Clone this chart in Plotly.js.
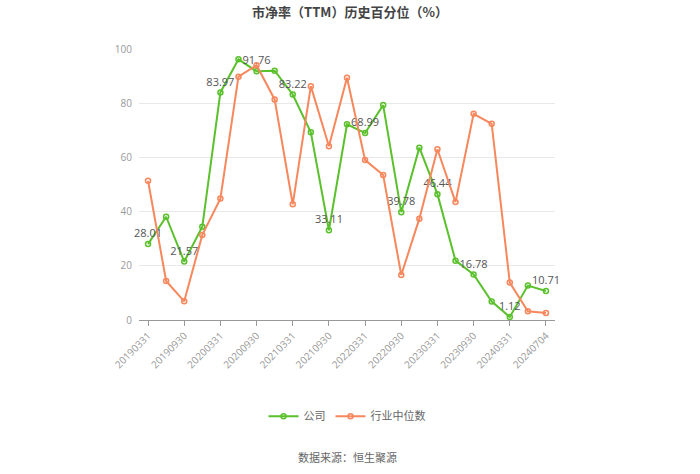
<!DOCTYPE html>
<html>
<head>
<meta charset="utf-8">
<script src="https://cdn.plot.ly/plotly-3.0.1.min.js"></script>
<style>
html,body{margin:0;padding:0;background:#fff;}
#chart{width:700px;height:474px;}
</style>
</head>
<body>
<div id="chart"></div>
<script>
const categories = ["20190331","20190630","20190930","20191231","20200331","20200630","20200930","20201231","20210331","20210630","20210930","20211231","20220331","20220630","20220930","20221231","20230331","20230630","20230930","20231231","20240331","20240630","20240704"];
const companyValues = [28.01,38.1,21.57,34.4,83.97,96.2,91.76,92.0,83.22,69.3,33.11,72.2,68.99,79.3,39.78,63.6,46.44,21.9,16.78,6.8,1.12,12.7,10.71];
const industryValues = [51.4,14.4,6.9,31.4,44.8,89.8,94.0,81.4,42.7,86.3,64.1,89.4,59.0,53.5,16.6,37.4,63.0,43.5,76.1,72.4,13.8,3.2,2.6];
const tickLabels = ["20190331","20190930","20200331","20200930","20210331","20210930","20220331","20220930","20230331","20230930","20240331","20240704"];
const labelIdx = [0,2,4,6,8,10,12,14,16,18,20,22];

const green = '#5ac12c';
const orange = '#f7875c';

const labelText = companyValues.map((v,i)=> labelIdx.includes(i) ? v.toFixed(2) : '');

const traces = [
  {
    x: categories, y: companyValues, name: '公司', type: 'scatter', mode: 'lines+markers+text',
    line: {color: green, width: 2},
    marker: {symbol: 'circle-open', size: 5, color: green, line: {width: 1.5, color: green}},
    text: labelText, textposition: 'top center',
    textfont: {family: 'Open Sans, Noto Sans CJK SC, sans-serif', size: 11, color: '#555'},
    cliponaxis: false
  },
  {
    x: categories, y: industryValues, name: '行业中位数', type: 'scatter', mode: 'lines+markers',
    line: {color: orange, width: 2},
    marker: {symbol: 'circle-open', size: 5, color: orange, line: {width: 1.5, color: orange}},
    cliponaxis: false
  }
];

const layout = {
  width: 700, height: 474,
  margin: {l: 139, r: 145, t: 49, b: 154, autoexpand: false},
  paper_bgcolor: '#fff', plot_bgcolor: '#fff',
  font: {family: 'Open Sans, Noto Sans CJK SC, sans-serif', color: '#999'},
  title: {
    text: '<b>市净率（TTM）历史百分位（%）</b>',
    x: 0.5, xanchor: 'center', y: 0.974, yanchor: 'middle',
    font: {family: 'Noto Sans CJK SC, sans-serif', size: 13, color: '#444'}
  },
  xaxis: {
    type: 'category',
    tickmode: 'array', tickvals: tickLabels, ticktext: tickLabels,
    tickangle: -45,
    ticks: 'outside', ticklen: 5, tickcolor: '#999',
    showline: true, linecolor: '#999', linewidth: 1,
    showgrid: false, zeroline: false,
    tickfont: {size: 10, color: '#999'},
    automargin: false,
    range: [-0.5, categories.length - 0.5]
  },
  yaxis: {
    range: [0, 100], dtick: 20,
    showgrid: true, gridcolor: '#e8e8e8', gridwidth: 1,
    zeroline: false, showline: false, ticks: '',
    tickfont: {size: 10, color: '#999'},
    automargin: false,
    ticklabelstandoff: 6
  },
  showlegend: true,
  legend: {
    orientation: 'h', x: 0.5, xanchor: 'center',
    yref: 'container', y: 0.122, yanchor: 'middle',
    font: {size: 11, color: '#666', family: 'Noto Sans CJK SC, sans-serif'},
    itemwidth: 30
  },
  annotations: [
    {text: '数据来源：恒生聚源', xref: 'paper', yref: 'paper', x: 0.5, xanchor: 'center',
     y: -0.5055, yanchor: 'middle', showarrow: false,
     font: {size: 11, color: '#666', family: 'Noto Sans CJK SC, sans-serif'}}
  ]
};

Plotly.newPlot('chart', traces, layout, {displayModeBar: false, staticPlot: true});
</script>
</body>
</html>
